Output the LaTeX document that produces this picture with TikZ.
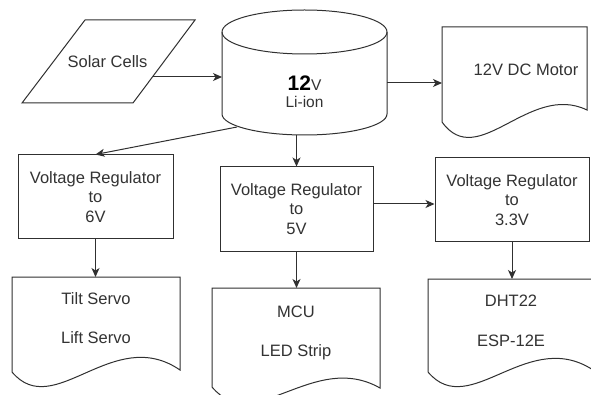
\documentclass[tikz,border=0pt]{standalone}
\usepackage{fontspec}
\setmainfont{Liberation Sans}
\usetikzlibrary{arrows.meta}
\definecolor{ln}{HTML}{303030}
\definecolor{tx}{HTML}{333333}
\begin{document}
\begin{tikzpicture}[x=1pt,y=-1pt,
  shp/.style={draw=ln, line width=1pt, line join=miter},
  arr/.style={draw=ln, line width=1pt, -{Stealth[length=9pt,width=8pt,inset=2.5pt]}},
  txt/.style={text=tx, font=\fontsize{16.5}{19.5}\selectfont, align=center, inner sep=0pt},
  box/.style={shp, txt, minimum height=84pt}]
\useasboundingbox (0,0) rectangle (591,395);
\fill[white] (0,0) rectangle (591,395);

% Solar cells (parallelogram)
\draw[shp] (85,20) -- (195,20) -- (133,103) -- (22,103) -- cycle;
\node[txt] (solar) at (107.5,62) {Solar Cells};
\coordinate (solarR) at (152.5,77);

% Battery cylinder
\draw[shp] (222,32) -- (222,114)
  arc[start angle=180,end angle=360,x radius=82.5pt,y radius=21pt]
  -- (387,32)
  arc[start angle=0,end angle=180,x radius=82.5pt,y radius=22pt] -- cycle;
\draw[shp] (222,32) arc[start angle=180,end angle=360,x radius=82.5pt,y radius=22pt];
\node[txt, font=\fontsize{15.5}{17}\selectfont] (batt) at (304.5,92)
  {{\fontsize{21}{17}\selectfont\bfseries\color{black}12}V\\Li-ion};
\coordinate (battL) at (222,77);
\coordinate (battR) at (387,83);
\coordinate (battBL) at (237,127);
\coordinate (battB) at (296.5,135);

% 12V DC Motor document
\draw[shp] (442,27) -- (587,27) -- (587,110)
  .. controls (529,82) and (478,172) .. (442,122) -- cycle;
\node[txt] (motor) at (526,70) {12V DC Motor};
\coordinate (motorL) at (442,83);

% Regulators
\node[box, minimum width=155pt] (r6) at (95.5,197) {Voltage Regulator\\to\\6V};
\node[box, minimum width=153pt] (r5) at (296.5,209) {Voltage Regulator\\to\\5V};
\node[box, minimum width=154pt] (r33) at (512,200) {Voltage Regulator\\to\\3.3V};

% Load documents
\draw[shp] (12,277) -- (180,277) -- (180,370)
  .. controls (113,324) and (54,422) .. (12,372) -- cycle;
\node[txt] (tilt) at (96,318) {Tilt Servo\\[20pt]Lift Servo};
\coordinate (tiltT) at (95.5,277);

\draw[shp] (212,288) -- (380,288) -- (380,388)
  .. controls (313,350) and (254,437) .. (212,387) -- cycle;
\node[txt] (mcu) at (296,333) {MCU\\[20pt]LED Strip};
\coordinate (mcuT) at (296.5,288);

\draw[shp] (428,279) -- (596,279) -- (596,372)
  .. controls (529,324) and (470,422) .. (428,372) -- cycle;
\node[txt] (dht) at (511,321) {DHT22\\[20pt]ESP-12E};
\coordinate (dhtT) at (512,279);

% Connectors
\coordinate (yh) at (0,204);
\draw[arr] (solarR) -- (battL);
\draw[arr] (battR) -- (motorL);
\draw[arr] (battBL) -- (r6.north);
\draw[arr] (battB) -- (r5.north);
\draw[arr] (r5.east |- yh) -- (r33.west |- yh);
\draw[arr] (r6.south) -- (tiltT);
\draw[arr] (r5.south) -- (mcuT);
\draw[arr] (r33.south) -- (dhtT);
\end{tikzpicture}
\end{document}
